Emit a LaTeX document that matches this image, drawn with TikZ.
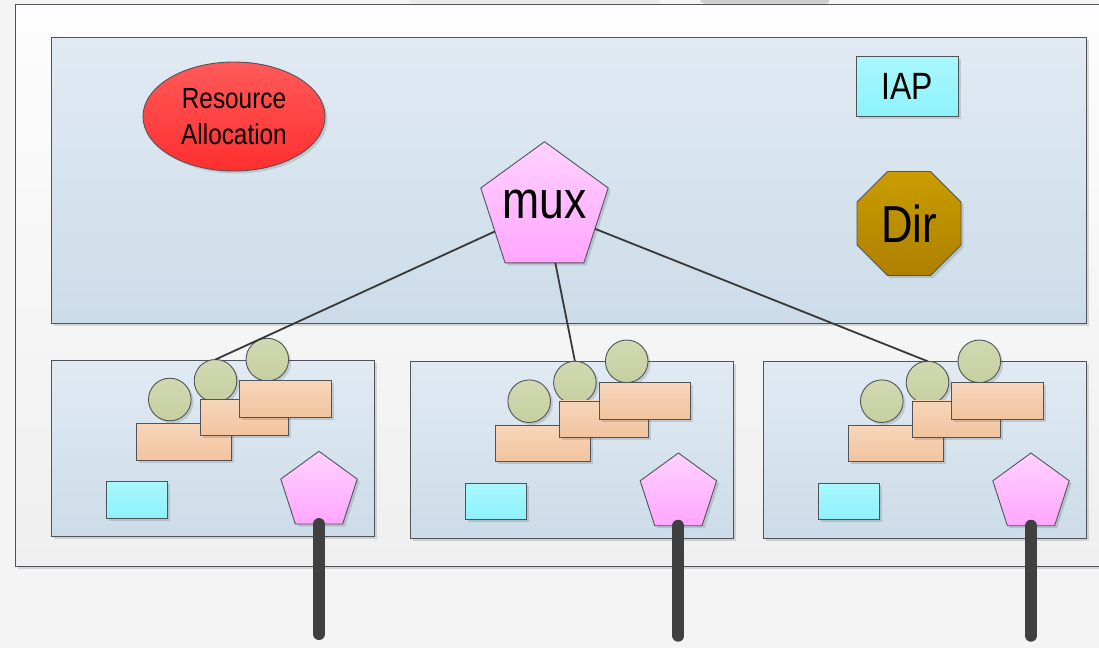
\documentclass[tikz,border=0pt]{standalone}
\usepackage{fontspec}
\setmainfont{Liberation Sans}
\newfontfamily\narrowfont[FakeStretch=0.84]{Liberation Sans}
\usetikzlibrary{shapes.geometric,shadows}
\definecolor{bgcol}{HTML}{F4F4F4}
\definecolor{frameTop}{HTML}{FDFDFD}
\definecolor{frameBot}{HTML}{EFEFEF}
\definecolor{edgegray}{HTML}{505458}
\definecolor{panelTop}{HTML}{E1EAF3}
\definecolor{panelBot}{HTML}{CCDCE8}
\definecolor{redTop}{HTML}{FF5A5A}
\definecolor{redBot}{HTML}{FF2E2E}
\definecolor{cyanTop}{HTML}{A9F7FD}
\definecolor{cyanBot}{HTML}{8EF2FB}
\definecolor{goldTop}{HTML}{C99D00}
\definecolor{goldBot}{HTML}{AE8000}
\definecolor{pinkTop}{HTML}{FFD2FF}
\definecolor{pinkBot}{HTML}{FFA6FF}
\definecolor{oliveTop}{HTML}{D2D9B2}
\definecolor{oliveBot}{HTML}{C6CFA0}
\definecolor{peachTop}{HTML}{F7D6BA}
\definecolor{peachBot}{HTML}{F2C39E}
\definecolor{wirecol}{HTML}{383838}
\definecolor{cablecol}{HTML}{404040}
\tikzset{
  shp/.style={draw=edgegray, line width=0.9pt, inner sep=0pt, outer sep=0pt,
    drop shadow={shadow xshift=2.5pt, shadow yshift=-2.5pt, opacity=0.13, fill=black}},
  outerbox/.style={shp, rectangle, top color=frameTop, bottom color=frameBot, anchor=north west, line width=1.1pt},
  panelbox/.style={shp, rectangle, top color=panelTop, bottom color=panelBot, anchor=north west},
  ball/.style={shp, circle, minimum size=42.6pt, top color=oliveTop, bottom color=oliveBot},
  slab/.style={shp, rectangle, top color=peachTop, bottom color=peachBot},
  iapbox/.style={shp, rectangle, top color=cyanTop, bottom color=cyanBot},
  pent/.style={shp, regular polygon, regular polygon sides=5, top color=pinkTop, bottom color=pinkBot},
  octo/.style={shp, regular polygon, regular polygon sides=8, top color=goldTop, bottom color=goldBot},
  redoval/.style={shp, ellipse, top color=redTop, bottom color=redBot},
  wire/.style={draw=wirecol, line width=1.8pt},
  cable/.style={draw=cablecol, line width=12pt, line cap=round},
}
\newcommand\subpanel[3]{%
  \begin{scope}[shift={(#2,#3)}]
    \node[panelbox, minimum width=322.7pt, minimum height=176.3pt] (#1) at (0,0) {};
    \node[ball] (#1a) at (118.5,39.5) {};
    \node[slab, minimum width=94.6pt, minimum height=36.2pt] (#1r1) at (132.5,82) {};
    \node[ball] (#1b) at (164.2,20.8) {};
    \node[slab, minimum width=88.3pt, minimum height=36.5pt] (#1r2) at (193.2,57.5) {};
    \node[ball] (#1c) at (216,-0.4) {};
    \node[slab, minimum width=91.5pt, minimum height=36.9pt] (#1r3) at (234.3,39.2) {};
    \node[iapbox, minimum width=61pt, minimum height=36.5pt] (#1i) at (85.3,139.8) {};
    \node[pent, minimum size=80.4pt] (#1p) at (267.7,131.5) {};
    \coordinate (#1e) at (267.7,274);
    \draw[cable] (#1p.south) -- (#1e);
  \end{scope}}
\begin{document}
\begin{tikzpicture}[x=1pt,y=-1pt]
  \useasboundingbox (0,0) rectangle (1099,648);
  \clip (0,0) rectangle (1099,648);
  \fill[bgcol] (0,0) rectangle (1099,648);
  \fill[black!8, rounded corners=4pt] (410,-8) rectangle (660,4);
  \fill[black!19, rounded corners=5pt] (700,-8) rectangle (830,4);
  \node[outerbox, minimum width=1110pt, minimum height=562pt] (frame) at (15.5,4.5) {};
  \node[panelbox, minimum width=1034.7pt, minimum height=285.3pt] (top) at (51.3,37.7) {};
  \node[redoval, minimum width=182pt, minimum height=109pt, align=center,
        font=\narrowfont\fontsize{29}{36}\selectfont] (ra) at (234,116.5) {Resource\\Allocation};
  \node[iapbox, minimum width=101.6pt, minimum height=60.7pt,
        font=\narrowfont\fontsize{38}{40}\selectfont] (iap) at (907.5,86.4) {IAP};
  \node[octo, minimum size=112.6pt, font=\narrowfont\fontsize{52}{54}\selectfont] (dir) at (909,223.5) {Dir};
  \subpanel{pa}{51.3}{360}
  \subpanel{pb}{410.7}{361.7}
  \subpanel{pc}{763.3}{361.7}
  \node[pent, minimum size=134pt] (mux) at (544.5,208.7) {};
  \node[inner sep=0pt, font=\narrowfont\fontsize{53}{55}\selectfont] (muxlabel) at (544.5,204.5) {mux};
  \draw[wire] (mux) -- (pab.north);
  \draw[wire] (mux) -- (pbb.north);
  \draw[wire] (mux) -- (pcb.north);
\end{tikzpicture}
\end{document}
